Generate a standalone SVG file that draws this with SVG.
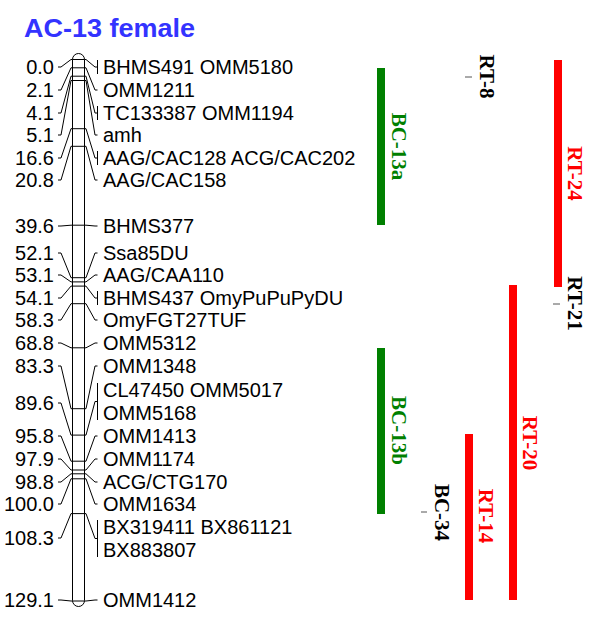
<svg xmlns="http://www.w3.org/2000/svg" width="600" height="625" viewBox="0 0 600 625">
<style>
.t{font-family:"Liberation Sans",Arial,sans-serif;font-size:20px;fill:#000}
.n{text-anchor:end}
.c{fill:none;stroke:#000;stroke-width:1}
.b{stroke:#000;stroke-width:1}
.v{font-family:"Liberation Serif","Times New Roman",serif;font-size:21px;font-weight:bold;text-anchor:middle}
.tick{stroke:#555;stroke-width:1}
</style>
<rect width="600" height="625" fill="#fff"/>
<text x="24" y="37" font-family="Liberation Sans,Arial,sans-serif" font-size="26" font-weight="bold" fill="#3333ff" textLength="171" lengthAdjust="spacingAndGlyphs">AC-13 female</text>

<g id="chromosome">
<rect x="72.5" y="53.5" width="12" height="553" rx="6" ry="6" fill="#fff" stroke="#000" stroke-width="1"/>
<g class="b">
<line x1="72.5" x2="84.5" y1="59.5" y2="59.5"/>
<line x1="72.5" x2="84.5" y1="67.8" y2="67.8"/>
<line x1="72.5" x2="84.5" y1="76.2" y2="76.2"/>
<line x1="72.5" x2="84.5" y1="80.5" y2="80.5"/>
<line x1="72.5" x2="84.5" y1="128.7" y2="128.7"/>
<line x1="72.5" x2="84.5" y1="146.3" y2="146.3"/>
<line x1="72.5" x2="84.5" y1="225.2" y2="225.2"/>
<line x1="72.5" x2="84.5" y1="277.7" y2="277.7"/>
<line x1="72.5" x2="84.5" y1="281.9" y2="281.9"/>
<line x1="72.5" x2="84.5" y1="286.1" y2="286.1"/>
<line x1="72.5" x2="84.5" y1="303.7" y2="303.7"/>
<line x1="72.5" x2="84.5" y1="347.8" y2="347.8"/>
<line x1="72.5" x2="84.5" y1="408.7" y2="408.7"/>
<line x1="72.5" x2="84.5" y1="435.1" y2="435.1"/>
<line x1="72.5" x2="84.5" y1="461.2" y2="461.2"/>
<line x1="72.5" x2="84.5" y1="470" y2="470"/>
<line x1="72.5" x2="84.5" y1="473.8" y2="473.8"/>
<line x1="72.5" x2="84.5" y1="478.8" y2="478.8"/>
<line x1="72.5" x2="84.5" y1="513.6" y2="513.6"/>
<line x1="72.5" x2="84.5" y1="601" y2="601"/>
</g>
</g>

<g id="connectors" class="c">
<polyline points="58,67 61,67 71,59.5 72.5,59.5"/>
<polyline points="58,90 61,90 71,67.8 72.5,67.8"/>
<polyline points="58,113 61,113 71,76.2 72.5,76.2"/>
<polyline points="58,135 61,135 71,80.5 72.5,80.5"/>
<polyline points="58,158 61,158 71,128.7 72.5,128.7"/>
<polyline points="58,180 61,180 71,146.3 72.5,146.3"/>
<polyline points="58,226 61,226 71,225.2 72.5,225.2"/>
<polyline points="58,253 61,253 71,277.7 72.5,277.7"/>
<polyline points="58,275 61,275 71,281.9 72.5,281.9"/>
<polyline points="58,298 61,298 71,286.1 72.5,286.1"/>
<polyline points="58,320 61,320 71,303.7 72.5,303.7"/>
<polyline points="58,343 61,343 71,347.8 72.5,347.8"/>
<polyline points="58,366 61,366 71,408.7 72.5,408.7"/>
<polyline points="58,403 61,403 71,435.1 72.5,435.1"/>
<polyline points="58,436 61,436 71,461.2 72.5,461.2"/>
<polyline points="58,459 61,459 71,470 72.5,470"/>
<polyline points="58,482 61,482 71,473.8 72.5,473.8"/>
<polyline points="58,504 61,504 71,478.8 72.5,478.8"/>
<polyline points="58,538 61,538 71,513.6 72.5,513.6"/>
<polyline points="58,600 61,600 71,601 72.5,601"/>

<polyline points="84.5,59.5 86,59.5 95,67 97.5,67"/>
<polyline points="84.5,67.8 86,67.8 95,90 97.5,90"/>
<polyline points="84.5,76.2 86,76.2 95,113 97.5,113"/>
<polyline points="84.5,80.5 86,80.5 95,135 97.5,135"/>
<polyline points="84.5,128.7 86,128.7 95,158 97.5,158"/>
<polyline points="84.5,146.3 86,146.3 95,180 97.5,180"/>
<polyline points="84.5,225.2 86,225.2 95,226 97.5,226"/>
<polyline points="84.5,277.7 86,277.7 95,253 97.5,253"/>
<polyline points="84.5,281.9 86,281.9 95,275 97.5,275"/>
<polyline points="84.5,286.1 86,286.1 95,298 97.5,298"/>
<polyline points="84.5,303.7 86,303.7 95,320 97.5,320"/>
<polyline points="84.5,347.8 86,347.8 95,343 97.5,343"/>
<polyline points="84.5,408.7 86,408.7 95,366 97.5,366"/>
<polyline points="84.5,435.1 86,435.1 95,401.5 97.5,401.5"/>
<polyline points="84.5,461.2 86,461.2 95,436 97.5,436"/>
<polyline points="84.5,470 86,470 95,459 97.5,459"/>
<polyline points="84.5,473.8 86,473.8 95,482 97.5,482"/>
<polyline points="84.5,478.8 86,478.8 95,504 97.5,504"/>
<polyline points="84.5,513.6 86,513.6 95,538.5 97.5,538.5"/>
<polyline points="84.5,601 86,601 95,600 97.5,600"/>

<line x1="97.5" x2="97.5" y1="60" y2="74"/>
<line x1="97.5" x2="97.5" y1="106" y2="120"/>
<line x1="97.5" x2="97.5" y1="151" y2="165"/>
<line x1="97.5" x2="97.5" y1="291" y2="305"/>
<line x1="97.5" x2="97.5" y1="383" y2="420"/>
<line x1="97.5" x2="97.5" y1="520" y2="557"/>
</g>

<g id="positions" class="t n">
<text x="54" y="74">0.0</text>
<text x="54" y="97">2.1</text>
<text x="54" y="120">4.1</text>
<text x="54" y="142">5.1</text>
<text x="54" y="165">16.6</text>
<text x="54" y="187">20.8</text>
<text x="54" y="233">39.6</text>
<text x="54" y="260">52.1</text>
<text x="54" y="282">53.1</text>
<text x="54" y="305">54.1</text>
<text x="54" y="327">58.3</text>
<text x="54" y="350">68.8</text>
<text x="54" y="373">83.3</text>
<text x="54" y="410">89.6</text>
<text x="54" y="443">95.8</text>
<text x="54" y="466">97.9</text>
<text x="54" y="489">98.8</text>
<text x="54" y="511">100.0</text>
<text x="54" y="545">108.3</text>
<text x="54" y="607">129.1</text>
</g>

<g id="markers" class="t">
<text x="103" y="74">BHMS491 OMM5180</text>
<text x="103" y="97">OMM1211</text>
<text x="103" y="120">TC133387 OMM1194</text>
<text x="103" y="142">amh</text>
<text x="103" y="165">AAG/CAC128 ACG/CAC202</text>
<text x="103" y="187">AAG/CAC158</text>
<text x="103" y="233">BHMS377</text>
<text x="103" y="260">Ssa85DU</text>
<text x="103" y="282">AAG/CAA110</text>
<text x="103" y="305">BHMS437 OmyPuPuPyDU</text>
<text x="103" y="327">OmyFGT27TUF</text>
<text x="103" y="350">OMM5312</text>
<text x="103" y="373">OMM1348</text>
<text x="103" y="397">CL47450 OMM5017</text>
<text x="103" y="420">OMM5168</text>
<text x="103" y="443">OMM1413</text>
<text x="103" y="466">OMM1174</text>
<text x="103" y="489">ACG/CTG170</text>
<text x="103" y="511">OMM1634</text>
<text x="103" y="534">BX319411 BX861121</text>
<text x="103" y="557">BX883807</text>
<text x="103" y="607">OMM1412</text>
</g>

<g id="BC-13a">
<rect x="377" y="68" width="8" height="157" fill="#008000"/>
<text class="v" fill="#008000" transform="translate(392,146.5) rotate(90)">BC-13a</text>
</g>
<g id="BC-13b">
<rect x="377" y="348" width="8" height="166" fill="#008000"/>
<text class="v" fill="#008000" transform="translate(392,430.5) rotate(90)">BC-13b</text>
</g>
<g id="RT-8">
<line class="tick" x1="465" x2="472" y1="77" y2="77"/>
<text class="v" fill="#000" transform="translate(480,76.5) rotate(90)">RT-8</text>
</g>
<g id="RT-24">
<rect x="554" y="60" width="8" height="227" fill="#ff0000"/>
<text class="v" fill="#ff0000" transform="translate(568,173.5) rotate(90)">RT-24</text>
</g>
<g id="RT-21">
<line class="tick" x1="553" x2="560" y1="304" y2="304"/>
<text class="v" fill="#000" transform="translate(568,303.5) rotate(90)">RT-21</text>
</g>
<g id="RT-20">
<rect x="509" y="285" width="8" height="315" fill="#ff0000"/>
<text class="v" fill="#ff0000" transform="translate(523,443) rotate(90)">RT-20</text>
</g>
<g id="RT-14">
<rect x="465" y="434" width="8" height="166" fill="#ff0000"/>
<text class="v" fill="#ff0000" transform="translate(479,516) rotate(90)">RT-14</text>
</g>
<g id="BC-34">
<line class="tick" x1="421" x2="427" y1="512" y2="512"/>
<text class="v" fill="#000" transform="translate(435,512.5) rotate(90)">BC-34</text>
</g>
</svg>
